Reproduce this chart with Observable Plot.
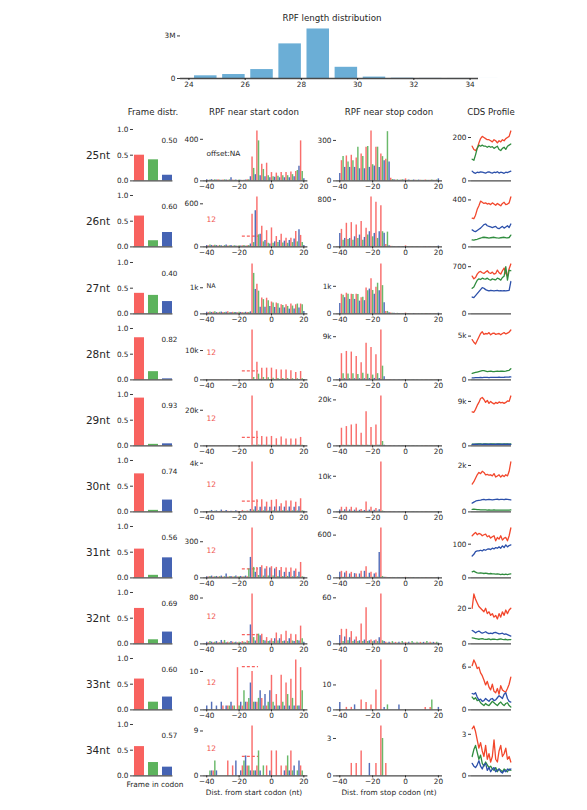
<!DOCTYPE html>
<html><head><meta charset="utf-8">
<script src="https://cdn.jsdelivr.net/npm/d3@7"></script>
<script src="https://cdn.jsdelivr.net/npm/@observablehq/plot@0.6"></script>
<style>
body{margin:0;background:#fff;}
#root{position:relative;width:587px;height:810px;overflow:hidden;font-family:"DejaVu Sans",sans-serif;color:#262626;background:#fff;}
.lbl{position:absolute;white-space:nowrap;transform:translate(-50%,-50%);line-height:1;}
</style></head><body><div id="root"></div>
<script>
// ---------------- DATA ----------------
const rpfLengths = [24,25,26,27,28,29,30,31,32,33,34];
const rpfCounts  = [190000,280000,630000,2440000,3490000,790000,100000,20000,8000,4000,2000];
const histTicks = [24,26,28,30,32,34];

const readLengths = ["25nt","26nt","27nt","28nt","29nt","30nt","31nt","32nt","33nt","34nt"];
const frameNames = ["frame0","frame1","frame2"];

const frame25 = [0.50,0.41,0.11];
const frame26 = [0.60,0.12,0.28];
const frame27 = [0.40,0.36,0.24];
const frame28 = [0.82,0.16,0.02];
const frame29 = [0.93,0.03,0.04];
const frame30 = [0.74,0.03,0.23];
const frame31 = [0.56,0.05,0.39];
const frame32 = [0.69,0.08,0.23];
const frame33 = [0.60,0.15,0.25];
const frame34 = [0.57,0.26,0.17];

const startTickValues = [400,600,1000,10000,20000,4000,300,80,10,9];
const startTickLabels = ["400","600","1k","10k","20k","4k","300","80","10","9"];
const stopTickValues  = [300,800,1000,9000,20000,10000,600,60,10,3];
const stopTickLabels  = ["300","800","1k","9k","20k","10k","600","60","10","3"];
const cdsTickValues   = [200,400,700,5000,9000,2000,100,20,6,3];
const cdsTickLabels   = ["200","400","700","5k","9k","2k","100","20","6","3"];
const posTicks = [-40,-20,0,20];

const offsetLabels = ["offset:NA","12","NA","12","12","12","12","12","12","12"];
const offsetLevels = [null,150,null,3100,4740,880,74,16,11.25,3.9];
const offsetSpan = [-18,-8];

// positions -40 .. 20 (nt)
const positions = [-40,-39,-38,-37,-36,-35,-34,-33,-32,-31,-30,-29,-28,-27,-26,-25,-24,-23,-22,-21,
  -20,-19,-18,-17,-16,-15,-14,-13,-12,-11,-10,-9,-8,-7,-6,-5,-4,-3,-2,-1,
  0,1,2,3,4,5,6,7,8,9,10,11,12,13,14,15,16,17,18,19,20];

const start25 = [10,5,8,12,5,10,8,10,8,6, 8,10,8,6,10,30,8,6,8,5, 8,6,5,6,8,10,12,40,230,120,
  60,480,385,50,160,110,40,170,50,30, 80,40,35,75,45,30,80,50,30,80, 50,30,85,60,40,90,100,140,385,90,20];
const stop25 = [55,150,180,100,185,140,100,190,150,100, 170,250,90,200,180,90,250,255,100,370,
  120,110,250,250,100,200,180,150,160,365, 140,20,10,8,6,8,5,6,8,6, 15,5,6,4,5,6,5,4,6,5, 5,4,6,5,4,5,6,4,5,6,15];
const start26 = [20,15,25,20,15,22,18,12,20,15, 10,18,25,12,15,20,10,15,12,10, 15,12,15,20,10,15,18,40,456,60,
  504,695,168,177,288,70,90,226,50,40, 264,50,70,144,60,90,177,55,80,120, 50,90,120,60,110,216,70,240,160,60,20];
const stop26 = [228,297,114,143,400,126,143,411,114,171, 371,143,200,428,114,160,314,200,257,845,
  171,228,754,143,257,697,257,230,40,250, 20,10,8,6,5,6,5,4,6,5, 18,5,4,6,5,4,6,5,4,5, 4,5,6,4,5,6,4,5,6,5,15];
const start27 = [60,50,70,55,60,80,50,45,60,70, 55,50,60,80,45,50,60,55,50,45, 60,55,50,45,60,50,55,80,1910,1550,
  936,1130,870,250,610,546,250,600,507,286, 455,416,247,416,390,221,351,325,230,351, 286,182,377,300,190,351,377,230,377,351,91];
const stop27 = [375,712,675,587,750,712,525,712,700,525, 712,700,462,587,600,480,937,837,900,1275,
  850,712,962,1112,837,1810,1025,400,90,90, 40,30,25,20,15,20,15,10,15,12, 30,10,12,10,8,10,12,8,10,8, 10,8,10,12,8,10,8,10,12,8,25];
const start28 = [50,30,40,60,30,40,50,30,40,60, 40,30,50,40,30,50,40,30,60,50, 40,50,60,40,50,60,50,80,17000,800,
  100,5980,1950,200,4000,800,150,4000,700,150, 4000,600,150,3450,500,150,3330,500,150,3330, 450,150,3100,400,150,2530,400,150,2870,350,100];
const stop28 = [300,5460,1300,250,5930,1250,250,5800,1300,250, 4900,1100,250,3550,1400,250,7640,1200,300,6750,
  1000,300,5250,1300,300,10400,2860,680,50,30, 20,15,10,15,10,12,10,8,10,12, 40,10,8,10,12,8,10,12,8,10, 10,8,12,10,8,10,12,8,10,8,40];
const start29 = [60,40,50,80,40,60,50,40,60,70, 50,40,60,50,40,60,50,40,60,50, 40,60,50,40,60,50,60,100,28000,400,
  300,8200,500,300,5300,400,300,4940,400,300, 5300,350,300,4000,350,300,4940,350,300,3800, 350,300,3800,350,300,3800,350,300,4750,350,100];
const stop29 = [200,7680,300,200,8400,300,200,9100,300,200, 9400,300,200,5500,300,200,14900,300,200,7970,
  300,200,9100,300,250,21700,1900,300,50,30, 20,15,10,12,10,15,10,8,10,12, 60,10,12,8,10,12,10,8,10,12, 10,8,12,10,8,10,12,8,10,8,60];
const start30 = [40,30,60,120,40,50,80,30,40,150, 50,40,120,60,30,50,40,30,100,50, 40,30,120,50,40,80,60,200,4100,150,
  420,1000,100,380,1000,90,400,800,80,380, 950,90,400,1000,80,420,670,90,390,890, 80,400,890,90,380,800,80,420,1080,90,60];
const stop30 = [500,1300,200,600,1300,200,550,1300,200,500, 1120,200,450,650,180,400,2800,200,500,1300,
  200,450,930,200,600,14000,250,100,50,40, 30,20,25,20,15,20,25,15,20,15, 80,15,20,15,20,15,20,15,20,15, 20,15,20,15,20,15,20,15,20,15,80];
const start31 = [10,8,12,15,8,10,12,8,10,15, 8,10,33,8,10,12,8,10,15,8, 10,12,8,10,15,10,74,170,414,87,
  46,87,20,87,100,15,74,93,15,82, 93,15,74,87,12,60,87,12,46,82, 12,46,82,10,55,74,10,46,128,10,5];
const stop31 = [78,92,10,69,92,10,55,78,10,60, 55,10,55,92,10,92,157,10,65,78,
  10,55,69,10,356,700,20,10,8,6, 5,4,6,5,4,6,5,4,5,6, 8,4,5,6,4,5,4,6,5,4, 5,4,6,5,4,5,6,4,5,4,8];
const start32 = [3,2,4,3,2,3,4,2,2,6, 3,6,2,3,2,4,3,2,3,2, 3,2,4,3,2,5,4,33,87,11,
  5,17,17,14,17,6,5,11,4,5, 9,4,9,19,5,9,16,4,5,22, 4,9,17,5,4,16,6,5,31,9,3];
const stop32 = [11,19,3,9,19,4,8,16,3,5, 9,3,4,26,3,5,47,3,4,5,
  3,4,5,3,8,65,4,3,2,1, 2,1,3,1,2,1,2,1,3,1, 2,1,2,1,3,1,1,2,1,2, 1,2,1,3,1,2,1,2,1,2,1];
const start33 = [1,0,0,2,0,0,1,0,0,2, 1,0,1,1,1,2,1,1,0,11, 1,2,1,5,2,2,3,7,10,2,
  2,2,3,5,3,1,4,1,2,5, 9,2,1,4,1,1,9,2,1,7, 4,1,8,3,1,13,1,1,11,5,0];
const stop33 = [3,0,0,0,1,0,0,1,0,2, 0,0,0,4,0,0,3,0,0,2,
  0,0,8,0,0,20,0,1,0,2, 0,0,0,0,0,0,2,0,0,0, 0,0,0,0,0,0,0,0,0,0, 0,0,1,0,0,1,4,0,0,0,1];
const start34 = [0,0,1,1,1,3,1,0,0,0, 0,0,0,3,0,0,2,0,3,0, 0,1,2,3,4,2,2,1,10,1,
  1,2,5,1,0,2,0,2,0,1, 5,0,0,5,0,0,2,0,1,2, 4,1,5,1,2,0,1,3,2,1,0];
const stop34 = [0,0,0,0,0,0,0,1,0,0, 1,0,0,2,0,0,0,0,1,0,
  0,0,1,0,0,4,3,0,1,0, 0,0,0,0,0,0,0,0,0,0, 0,0,0,0,0,0,0,0,0,0, 0,0,0,0,0,0,0,0,0,0,0];

// CDS profile: [frame0 (red), frame1 (green), frame2 (blue)]
const cds25 = [
  [160,145,140,150,175,195,205,200,195,190,190,185,180,190,185,175,185,180,190,185,195,200,205,230],
  [100,95,120,150,165,160,165,160,160,155,160,155,158,150,155,160,145,140,150,155,145,160,165,170],
  [45,38,35,40,38,42,40,38,36,40,42,38,36,40,38,42,36,40,38,35,40,38,42,45]];
const cds26 = [
  [245,240,270,320,350,390,380,370,375,365,370,360,375,365,355,370,360,350,370,380,360,365,375,425],
  [60,58,62,65,70,75,80,82,80,78,75,78,80,82,78,76,75,78,80,82,78,76,80,100],
  [145,135,130,140,150,160,175,190,195,180,175,170,165,170,175,160,155,165,175,160,170,180,165,195]];
const cds27 = [
  [560,520,540,590,620,630,610,600,620,640,610,600,620,590,600,650,610,590,640,680,600,560,670,740],
  [380,400,450,500,520,510,530,520,515,530,510,500,520,510,505,530,520,500,540,560,700,500,650,640],
  [250,240,270,300,330,360,390,380,360,350,340,350,345,340,345,350,340,345,340,345,340,345,350,480]];
const cds28 = [
  [4600,4300,4100,4500,4900,5300,5500,5200,5300,5250,5400,5150,5300,5350,5200,5250,5300,5150,5300,5400,5250,5350,5450,5700],
  [750,800,850,900,950,1000,1050,1050,1000,950,980,1000,960,950,980,1000,970,990,1000,980,1000,1050,1100,1280],
  [220,230,250,260,270,280,270,280,290,280,270,280,290,285,280,290,300,290,295,300,310,320,330,350]];
const cds29 = [
  [6900,6800,7400,8200,8800,9600,9800,9400,8800,9200,8600,9000,8700,8500,8800,8600,8900,8700,8800,8600,8800,9100,9000,10100],
  [350,340,360,380,390,380,370,380,390,380,370,380,390,380,370,380,390,380,370,380,390,380,370,400],
  [300,320,330,300,340,350,320,330,340,320,330,340,320,310,330,340,330,320,330,340,320,330,340,320]];
const cds30 = [
  [1200,1300,1450,1600,1700,1650,1750,1700,1600,1620,1580,1600,1550,1650,1500,1550,1600,1500,1580,1520,1600,1550,1750,2150],
  [110,120,110,100,95,90,85,90,85,80,85,80,78,82,80,75,78,80,76,78,75,78,80,85],
  [380,420,460,490,500,510,530,540,520,530,540,530,520,530,540,545,530,535,540,530,545,540,530,520]];
const cds31 = [
  [125,130,135,128,132,130,125,128,130,122,125,118,122,125,110,120,115,125,112,118,120,110,125,148],
  [18,20,17,15,14,15,14,13,14,13,12,13,12,12,11,12,11,10,11,10,11,10,11,12],
  [65,70,78,80,80,82,80,84,82,85,86,84,88,86,90,88,92,88,95,90,98,92,96,98]];
const cds32 = [
  [20,28,25,23,21,20,19,18,20,17,18,16,17,15,16,14,17,15,18,16,19,17,19,20],
  [3.4,3.2,3.0,2.8,2.6,2.8,3.0,2.7,2.5,2.6,2.8,2.4,2.6,2.7,2.5,2.4,2.6,2.8,2.5,2.4,2.6,2.3,2.4,2.4],
  [7.5,7.0,6.2,6.8,7.2,6.5,6.0,6.4,6.8,6.2,5.8,6.0,5.8,6.3,6.5,6.0,5.6,5.8,6.0,5.4,5.6,5.2,4.8,4.4]];
const cds33 = [
  [6.2,7.0,6.5,5.8,6.0,5.2,4.8,4.2,3.5,4.0,3.2,2.8,3.6,2.6,2.4,3.0,2.2,3.4,2.8,2.6,2.5,3.0,3.6,4.6],
  [1.8,1.5,1.7,1.3,1.4,1.0,0.8,0.6,0.9,0.7,0.6,0.9,1.2,1.0,0.8,0.6,0.9,1.1,0.8,0.6,0.9,1.0,0.6,0.4],
  [2.3,2.2,2.4,1.8,1.4,1.5,1.2,1.3,1.6,1.4,1.2,1.5,1.6,1.3,1.4,1.7,2.0,1.8,1.6,2.2,2.4,1.6,1.2,1.1]];
const cds34 = [
  [3.4,3.6,3.2,2.6,2.0,2.4,1.8,1.4,2.2,1.2,1.6,1.0,1.4,2.6,1.2,1.0,1.8,2.2,1.4,1.6,2.0,1.2,1.4,1.0],
  [1.4,1.9,2.2,1.7,1.2,1.5,0.9,0.7,1.0,0.8,0.6,0.7,0.5,0.4,0.6,0.3,0.5,0.4,0.3,0.5,0.4,0.3,0.5,0.4],
  [0.9,0.7,0.6,0.8,1.1,0.7,0.5,0.8,0.9,0.4,0.6,0.3,0.5,0.6,0.3,0.4,0.5,0.3,0.2,0.4,0.3,0.5,0.4,0.5]];

const frameRows = [frame25,frame26,frame27,frame28,frame29,frame30,frame31,frame32,frame33,frame34];
const startRows = [start25,start26,start27,start28,start29,start30,start31,start32,start33,start34];
const stopRows  = [stop25,stop26,stop27,stop28,stop29,stop30,stop31,stop32,stop33,stop34];
const cdsRows   = [cds25,cds26,cds27,cds28,cds29,cds30,cds31,cds32,cds33,cds34];

// ---------------- STYLE / LAYOUT ----------------
const FONT = "DejaVu Sans";
const INK = "#262626";
const AXIS = "#4a4a4a";
const barColors = ["#f8625f","#5db35d","#4563b3"];
const lineColors = ["#f2472c","#2f8c3e","#2c50aa"];
const histColor = "#6baed6";
const TICKFS = 7.3;

const root = document.getElementById("root");
const M = {top: 6, right: 16, bottom: 14, left: 36};
const rowTop0 = 129.3, rowPitch = 66.1, panelH = 51.4;
const frameBox = {x: 133.3, w: 39.4};
const startBox = {x: 203.3, w: 104.4};
const stopBox  = {x: 336, w: 106};
const cdsBox   = {x: 471, w: 40};
const posDomain = [-42, 22.5];

function panel(fx, fy, fw, fh, opts) {
  const chart = Plot.plot({
    width: fw + M.left + M.right,
    height: fh + M.top + M.bottom,
    marginTop: M.top, marginRight: M.right, marginBottom: M.bottom, marginLeft: M.left,
    color: {type: "identity"},
    style: {background: "transparent", overflow: "visible", fontFamily: FONT, fontSize: TICKFS + "px", color: INK},
    ...opts
  });
  chart.style.position = "absolute";
  chart.style.left = (fx - M.left) + "px";
  chart.style.top = (fy - M.top) + "px";
  chart.style.maxWidth = "none";
  root.appendChild(chart);
}
function yAxis(ticks, labels) {
  return Plot.axisY({ticks, tickFormat: d => labels[ticks.indexOf(d)], tickSize: 3, tickPadding: 2,
    fontSize: TICKFS, label: null, stroke: INK, strokeWidth: 0.9});
}
function baseLine() { return Plot.ruleY([0], {stroke: AXIS, strokeWidth: 1.4}); }
function label(text, x, y, size, extra = "") {
  const d = document.createElement("div");
  d.className = "lbl";
  d.textContent = text;
  d.style.left = x + "px"; d.style.top = y + "px"; d.style.fontSize = size + "px";
  d.style.cssText += extra;
  root.appendChild(d);
}

// ---------------- TOP HISTOGRAM ----------------
const histData = rpfLengths.map((len, i) => ({len, count: rpfCounts[i]}));
panel(180, 26.5, 298, 51, {
  x: {domain: [23.7, 34.3], axis: null},
  y: {domain: [0, d3.max(rpfCounts) * 1.03], axis: null},
  marks: [
    Plot.rectY(histData, {x1: "len", x2: d => d.len + 1, y: "count", insetLeft: 5.6, fill: histColor}),
    baseLine(),
    Plot.axisX({ticks: histTicks, tickSize: 2, tickPadding: 1, fontSize: TICKFS, label: null, stroke: INK}),
    yAxis([0, 3000000], ["0", "3M"])
  ]
});
label("RPF length distribution", 332, 18.3, 8.7);

// ---------------- COLUMN HEADERS ----------------
label("Frame distr.", 153, 111.7, 8.6);
label("RPF near start codon", 254, 111.7, 8.6);
label("RPF near stop codon", 389, 111.7, 8.6);
label("CDS Profile", 491, 111.7, 8.6);

// ---------------- ROWS ----------------
readLengths.forEach((name, r) => {
  const top = rowTop0 + rowPitch * r;
  label(name, 98, top + 26, 10.5);

  // frame distribution
  const fr = frameRows[r];
  const fdata = fr.map((v, k) => ({frame: frameNames[k], frac: v, color: barColors[k]}));
  panel(frameBox.x, top, frameBox.w, panelH, {
    x: {type: "band", domain: frameNames, paddingInner: 0.29, paddingOuter: 0.05, axis: null},
    y: {domain: [0, 1], axis: null},
    marks: [
      Plot.barY(fdata, {x: "frame", y: "frac", fill: "color"}),
      baseLine(),
      yAxis([0, 0.5, 1], ["0.0", "0.5", "1.0"]),
      Plot.text([d3.format(".2f")(d3.max(fr))], {text: d => d, frameAnchor: "top-right", dx: 4.5, dy: 8.7,
        textAnchor: "end", fontSize: 7.2, fill: INK})
    ]
  });

  // start codon
  const sVals = startRows[r];
  const sData = positions.map((p, k) => ({pos: p, v: sVals[k], color: barColors[((p % 3) + 3) % 3]}));
  const sMarks = [];
  if (offsetLevels[r] != null) {
    sMarks.push(Plot.ruleY([offsetLevels[r]], {x1: offsetSpan[0], x2: offsetSpan[1], stroke: barColors[0],
      strokeWidth: 1.2, strokeDasharray: "3,2"}));
  }
  const isNum = offsetLabels[r] === "12";
  sMarks.push(
    Plot.ruleX(sData, {x: "pos", y1: 0, y2: "v", stroke: "color", strokeWidth: 1.45, strokeOpacity: 0.92}),
    baseLine(),
    Plot.axisX({ticks: posTicks, tickSize: 2, tickPadding: 0.5, fontSize: TICKFS, label: null, stroke: INK}),
    yAxis([0, startTickValues[r]], ["0", startTickLabels[r]]),
    Plot.text([offsetLabels[r]], {text: d => d, frameAnchor: "top-left", dx: 3, dy: 21, textAnchor: "start",
      fontSize: isNum ? 7.6 : (r === 2 ? 6.4 : 7.4), fill: isNum ? "#f0524f" : INK})
  );
  panel(startBox.x, top, startBox.w, panelH, {
    x: {domain: posDomain, axis: null},
    y: {domain: [0, d3.max(sVals) * 1.03], axis: null},
    marks: sMarks
  });

  // stop codon
  const tVals = stopRows[r];
  const tData = positions.map((p, k) => ({pos: p, v: tVals[k], color: barColors[((p % 3) + 3) % 3]}));
  panel(stopBox.x, top, stopBox.w, panelH, {
    x: {domain: posDomain, axis: null},
    y: {domain: [0, d3.max(tVals) * 1.03], axis: null},
    marks: [
      Plot.ruleX(tData, {x: "pos", y1: 0, y2: "v", stroke: "color", strokeWidth: 1.45, strokeOpacity: 0.92}),
      baseLine(),
      Plot.axisX({ticks: posTicks, tickSize: 2, tickPadding: 0.5, fontSize: TICKFS, label: null, stroke: INK}),
      yAxis([0, stopTickValues[r]], ["0", stopTickLabels[r]])
    ]
  });

  // CDS profile
  const c = cdsRows[r];
  const cData = [];
  c.forEach((series, k) => series.forEach((v, i) => cData.push({i, v, s: frameNames[k], color: lineColors[k]})));
  const n = c[0].length;
  panel(cdsBox.x, top, cdsBox.w, panelH, {
    x: {domain: [-0.4, n - 0.6], axis: null},
    y: {domain: [0, d3.max(c.flat()) * 1.03], axis: null},
    marks: [
      Plot.line(cData, {x: "i", y: "v", z: "s", stroke: "color", strokeWidth: 1.3}),
      baseLine(),
      yAxis([0, cdsTickValues[r]], ["0", cdsTickLabels[r]])
    ]
  });
});

// ---------------- BOTTOM LABELS ----------------
label("Frame in codon", 155, 784.5, 7.4);
label("Dist. from start codon (nt)", 254, 792.7, 7.4);
label("Dist. from stop codon (nt)", 389, 792.7, 7.4);
</script></body></html>
